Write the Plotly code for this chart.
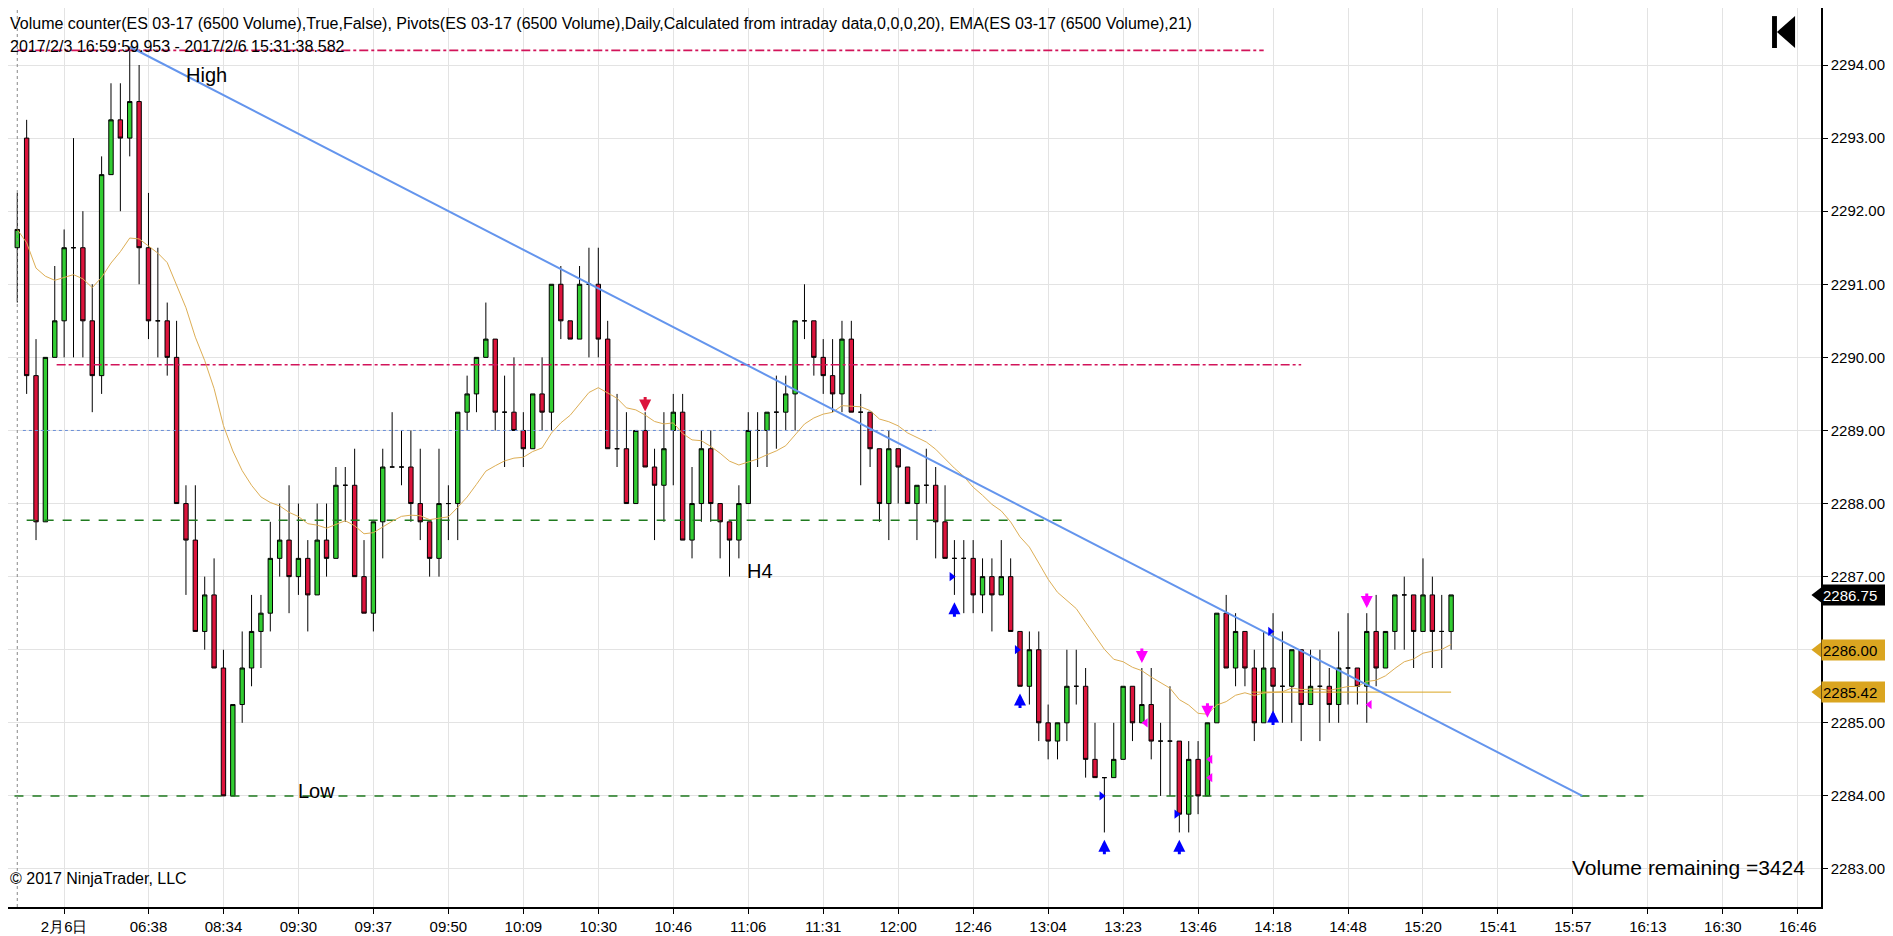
import pandas as pd
import plotly.graph_objects as go

# ES 03-17 6500-volume bars (bar index 0 = 2017/2/3 last bar)
opens = [2291.5, 2293.0, 2289.75, 2287.75, 2290.0, 2290.5, 2291.5, 2291.5, 2290.5, 2289.75,
         2292.5, 2293.25, 2293.0, 2293.5, 2291.5, 2290.5, 2290.5, 2290.0, 2288.0, 2287.5,
         2286.25, 2286.75, 2285.75, 2284.0, 2285.25, 2285.75, 2286.25, 2286.5, 2287.25, 2287.5,
         2287.0, 2287.25, 2286.75, 2287.5, 2287.25, 2288.25, 2288.25, 2287.0, 2286.5, 2287.75,
         2288.5, 2288.5, 2288.5, 2288.0, 2287.75, 2287.25, 2288.0, 2288.0, 2289.25, 2289.5,
         2290.0, 2290.25, 2289.25, 2289.25, 2289.0, 2288.75, 2289.5, 2289.25, 2291.0, 2290.5,
         2290.25, 2291.0, 2291.0, 2290.25, 2288.75, 2288.75, 2288.0, 2289.0, 2288.5, 2288.25,
         2289.0, 2289.25, 2287.5, 2288.0, 2288.75, 2288.0, 2287.75, 2287.5, 2288.0, 2289.0,
         2289.0, 2289.25, 2289.25, 2289.5, 2290.5, 2290.5, 2290.0, 2289.75, 2289.5, 2290.25,
         2289.25, 2289.25, 2288.75, 2288.0, 2288.75, 2288.5, 2288.0, 2288.25, 2288.25, 2287.75,
         2287.25, 2287.25, 2287.25, 2286.75, 2287.0, 2286.75, 2287.0, 2286.25, 2285.5, 2286.0,
         2285.0, 2284.75, 2285.0, 2285.5, 2285.5, 2284.5, 2284.25, 2284.25, 2284.5, 2285.5,
         2285.0, 2285.25, 2284.75, 2284.75, 2284.75, 2283.75, 2284.5, 2284.0, 2285.0, 2286.5,
         2285.75, 2286.25, 2285.75, 2285.0, 2285.75, 2285.5, 2285.5, 2286.0, 2285.25, 2285.5,
         2285.5, 2285.25, 2285.75, 2285.75, 2285.5, 2286.25, 2285.75, 2286.25, 2286.75, 2286.75,
         2286.25, 2286.75, 2286.25, 2286.25]
highs = [2292.25, 2293.25, 2290.25, 2290.0, 2291.25, 2291.75, 2293.0, 2292.0, 2291.0, 2292.75,
         2293.75, 2293.75, 2294.25, 2294.0, 2292.25, 2291.5, 2290.75, 2290.5, 2288.25, 2288.25,
         2287.0, 2287.25, 2286.0, 2285.25, 2286.25, 2286.75, 2286.75, 2287.75, 2288.0, 2288.25,
         2288.0, 2287.5, 2288.0, 2288.0, 2288.5, 2288.5, 2288.75, 2287.5, 2287.75, 2288.75,
         2289.25, 2289.0, 2289.0, 2288.75, 2287.75, 2288.75, 2288.25, 2289.25, 2289.75, 2290.0,
         2290.75, 2290.25, 2289.75, 2290.0, 2289.25, 2289.5, 2290.0, 2291.0, 2291.25, 2290.5,
         2291.25, 2291.5, 2291.5, 2290.5, 2289.5, 2289.25, 2289.0, 2289.25, 2288.75, 2289.25,
         2289.5, 2289.5, 2288.5, 2289.0, 2289.0, 2288.0, 2287.75, 2288.25, 2289.25, 2289.25,
         2289.25, 2289.75, 2289.75, 2290.5, 2291.0, 2290.5, 2290.25, 2290.25, 2290.5, 2290.5,
         2289.5, 2289.25, 2288.75, 2289.0, 2288.75, 2288.5, 2288.25, 2288.75, 2288.5, 2288.25,
         2287.5, 2287.5, 2287.5, 2287.25, 2287.25, 2287.5, 2287.25, 2286.25, 2286.25, 2286.25,
         2285.25, 2285.0, 2286.0, 2286.0, 2285.75, 2285.0, 2284.25, 2285.0, 2285.5, 2285.5,
         2285.75, 2285.75, 2285.0, 2285.5, 2284.75, 2284.75, 2284.75, 2285.0, 2286.5, 2286.75,
         2286.5, 2286.25, 2286.0, 2286.25, 2286.5, 2286.25, 2286.0, 2286.0, 2286.0, 2286.0,
         2285.75, 2286.25, 2286.5, 2285.75, 2286.5, 2286.75, 2286.25, 2286.75, 2287.0, 2286.75,
         2287.25, 2287.0, 2286.75, 2286.75]
lows = [2290.75, 2289.5, 2287.5, 2287.75, 2290.0, 2290.0, 2290.0, 2290.0, 2289.25, 2289.5,
        2292.5, 2292.0, 2292.75, 2291.0, 2290.25, 2290.0, 2289.75, 2288.0, 2286.75, 2286.25,
        2286.0, 2285.75, 2284.0, 2284.0, 2285.0, 2285.5, 2285.75, 2286.25, 2287.0, 2286.5,
        2286.75, 2286.25, 2286.75, 2287.0, 2287.25, 2287.75, 2287.0, 2286.5, 2286.25, 2287.25,
        2288.5, 2288.25, 2287.75, 2287.5, 2287.0, 2287.0, 2287.5, 2287.5, 2289.0, 2289.25,
        2290.0, 2289.0, 2288.5, 2289.0, 2288.5, 2288.75, 2289.0, 2289.0, 2290.25, 2290.25,
        2290.25, 2290.0, 2290.0, 2288.75, 2288.5, 2288.0, 2288.0, 2288.5, 2287.5, 2287.75,
        2288.25, 2287.5, 2287.25, 2287.75, 2287.75, 2287.25, 2287.0, 2287.25, 2288.0, 2288.5,
        2288.5, 2288.75, 2289.0, 2289.0, 2290.25, 2289.75, 2289.5, 2289.25, 2289.25, 2289.25,
        2288.25, 2288.5, 2287.75, 2287.5, 2288.0, 2288.0, 2287.5, 2288.0, 2287.25, 2287.25,
        2286.75, 2286.5, 2286.5, 2286.5, 2286.25, 2286.75, 2286.25, 2285.5, 2285.25, 2284.75,
        2284.5, 2284.5, 2284.75, 2285.25, 2284.25, 2284.25, 2283.5, 2284.25, 2284.5, 2284.75,
        2285.0, 2284.5, 2284.0, 2284.0, 2283.5, 2283.5, 2283.75, 2284.0, 2285.0, 2285.75,
        2285.5, 2285.5, 2284.75, 2285.0, 2285.0, 2285.0, 2285.0, 2284.75, 2285.25, 2284.75,
        2285.0, 2285.0, 2285.25, 2285.25, 2285.0, 2285.5, 2285.75, 2286.0, 2286.0, 2285.75,
        2286.25, 2285.75, 2285.75, 2286.0]
closes = [2291.75, 2289.75, 2287.75, 2290.0, 2290.5, 2291.5, 2291.5, 2290.5, 2289.75, 2292.5,
          2293.25, 2293.0, 2293.5, 2291.5, 2290.5, 2290.5, 2290.0, 2288.0, 2287.5, 2286.25,
          2286.75, 2285.75, 2284.0, 2285.25, 2285.75, 2286.25, 2286.5, 2287.25, 2287.5, 2287.0,
          2287.25, 2286.75, 2287.5, 2287.25, 2288.25, 2288.25, 2287.0, 2286.5, 2287.75, 2288.5,
          2288.5, 2288.5, 2288.0, 2287.75, 2287.25, 2288.0, 2288.0, 2289.25, 2289.5, 2290.0,
          2290.25, 2289.25, 2289.25, 2289.0, 2288.75, 2289.5, 2289.25, 2291.0, 2290.5, 2290.25,
          2291.0, 2291.0, 2290.25, 2288.75, 2288.75, 2288.0, 2289.0, 2288.5, 2288.25, 2288.75,
          2289.25, 2287.5, 2288.0, 2288.75, 2288.0, 2287.75, 2287.5, 2288.0, 2289.0, 2289.0,
          2289.25, 2289.25, 2289.5, 2290.5, 2290.5, 2290.0, 2289.75, 2289.5, 2290.25, 2289.25,
          2289.25, 2288.75, 2288.0, 2288.75, 2288.5, 2288.0, 2288.25, 2288.25, 2287.75, 2287.25,
          2287.25, 2287.25, 2286.75, 2287.0, 2286.75, 2287.0, 2286.25, 2285.5, 2286.0, 2285.0,
          2284.75, 2285.0, 2285.5, 2285.5, 2284.5, 2284.25, 2284.25, 2284.5, 2285.5, 2285.0,
          2285.25, 2284.75, 2284.75, 2284.75, 2283.75, 2284.5, 2284.0, 2285.0, 2286.5, 2285.75,
          2286.25, 2285.75, 2285.0, 2285.75, 2285.5, 2285.5, 2286.0, 2285.25, 2285.5, 2285.5,
          2285.25, 2285.75, 2285.75, 2285.5, 2286.25, 2285.75, 2286.25, 2286.75, 2286.75, 2286.25,
          2286.75, 2286.25, 2286.25, 2286.75]

tick_labels = ['2月6日', '06:38', '08:34', '09:30', '09:37', '09:50', '10:09', '10:30', '10:46',
               '11:06', '11:31', '12:00', '12:46', '13:04', '13:23', '13:46', '14:18', '14:48',
               '15:20', '15:41', '15:57', '16:13', '16:30', '16:46']
tick_bars = [5] + list(range(14, 191, 8))

# pivot / level lines: (price, first bar, last bar)
red_pivots = [(2294.2, 0, 133), (2289.9, 4.2, 137)]
green_levels = [(2287.77, 1, 112), (2284.0, -0.3, 174)]
blue_level = (2289.0, 0.6, 98)
gold_level = (2285.42, 131.7, 153)
trend_line = [(12, 2294.25), (167, 2284.0)]

# signal markers
buy_bars = [100, 107, 116, 124, 134]
buy_arrow_tips = [2286.65, 2285.4, 2283.4, 2283.4, 2285.17]
buy_tri_x = [99.7, 106.67, 115.7, 123.7, 133.7]
buy_tri_y = [2287.0, 2286.0, 2284.0, 2283.75, 2286.25]
sell_bars = [120, 127, 144]
sell_arrow_tips = [2285.82, 2285.07, 2286.57]
sell_tri_x = [120.4, 127.3, 127.3, 144.3]
sell_tri_y = [2285.0, 2284.5, 2284.25, 2285.25]
h4_bar, h4_tip = 67, 2289.26

ema = pd.Series(closes).ewm(span=21, adjust=False).mean()
bars = list(range(len(closes)))

RED = '#DC143C'
PINK = '#FF00FF'
BLUE = '#0000FF'
FONT = 'Arial, Liberation Sans, sans-serif'

fig = go.Figure()

# session break
fig.add_vline(x=0, line=dict(color='#888888', width=1, dash='dot'))

for price, x0, x1 in red_pivots:
    fig.add_trace(go.Scatter(x=[x0, x1], y=[price, price], mode='lines',
                             line=dict(color='#D2145A', width=1.6, dash='dashdot')))
for price, x0, x1 in green_levels:
    fig.add_trace(go.Scatter(x=[x0, x1], y=[price, price], mode='lines',
                             line=dict(color='#1F7A1F', width=1.5, dash='dash')))
fig.add_trace(go.Scatter(x=[blue_level[1], blue_level[2]], y=[blue_level[0]] * 2, mode='lines',
                         line=dict(color='#6A8FD8', width=1, dash='dot')))
fig.add_trace(go.Scatter(x=[gold_level[1], gold_level[2]], y=[gold_level[0]] * 2, mode='lines',
                         line=dict(color='#DAA520', width=1)))

fig.add_trace(go.Scatter(x=bars, y=ema, mode='lines', line=dict(color='#DDAE55', width=1)))

fig.add_trace(go.Candlestick(
    x=bars, open=opens, high=highs, low=lows, close=closes,
    increasing=dict(fillcolor='#32CD32', line=dict(color='black', width=1)),
    decreasing=dict(fillcolor=RED, line=dict(color='black', width=1)),
    whiskerwidth=0,
))

fig.add_trace(go.Scatter(x=[p[0] for p in trend_line], y=[p[1] for p in trend_line], mode='lines',
                         line=dict(color='#6495ED', width=2)))

fig.add_trace(go.Scatter(x=buy_tri_x, y=buy_tri_y, mode='markers',
                         marker=dict(symbol='triangle-right', size=8, color=BLUE)))
fig.add_trace(go.Scatter(x=sell_tri_x, y=sell_tri_y, mode='markers',
                         marker=dict(symbol='triangle-left', size=8, color=PINK)))

for b, tip in zip(buy_bars, buy_arrow_tips):
    fig.add_annotation(x=b, y=tip, ax=0, ay=16, text='', showarrow=True, arrowhead=2,
                       arrowsize=0.8, arrowwidth=3, arrowcolor=BLUE)
for b, tip in zip(sell_bars, sell_arrow_tips):
    fig.add_annotation(x=b, y=tip, ax=0, ay=-16, text='', showarrow=True, arrowhead=2,
                       arrowsize=0.8, arrowwidth=3, arrowcolor=PINK)
fig.add_annotation(x=h4_bar, y=h4_tip, ax=0, ay=-16, text='', showarrow=True, arrowhead=2,
                   arrowsize=0.8, arrowwidth=3, arrowcolor=RED)

# chart labels
for txt, x, y in [('High', 17.8, 2293.86), ('Low', 29.7, 2284.07), ('H4', 77.6, 2287.08)]:
    fig.add_annotation(x=x, y=y, text=txt, showarrow=False, xanchor='left',
                       font=dict(family=FONT, size=20, color='black'))

# price markers on the right axis
x_edge = 192.3
for price, bg, fg in [(closes[-1], 'black', 'white'), (2286.0, '#DAA520', 'black'),
                      (gold_level[0], '#DAA520', 'black')]:
    fig.add_trace(go.Scatter(x=[x_edge], y=[price], mode='markers', cliponaxis=False,
                             marker=dict(symbol='triangle-left', size=16, color=bg)))
    fig.add_annotation(xref='paper', x=1.0, y=price, text=f'{price:.2f}', showarrow=False,
                       xanchor='left', bgcolor=bg, width=70, height=18, align='left',
                       font=dict(family=FONT, size=15, color=fg))

fig.add_annotation(xref='paper', yref='paper', x=0, y=0.9944, xanchor='left', showarrow=False,
                   text='Volume counter(ES 03-17 (6500 Volume),True,False), Pivots(ES 03-17 (6500 Volume),'
                        'Daily,Calculated from intraday data,0,0,0,20), EMA(ES 03-17 (6500 Volume),21)',
                   font=dict(family=FONT, size=16, color='black'))
fig.add_annotation(xref='paper', yref='paper', x=0, y=0.9689, xanchor='left', showarrow=False,
                   text='2017/2/3 16:59:59.953 - 2017/2/6 15:31:38.582',
                   font=dict(family=FONT, size=16, color='black'))
fig.add_annotation(xref='paper', yref='paper', x=0, y=0.02, xanchor='left', showarrow=False,
                   text='© 2017 NinjaTrader, LLC', font=dict(family=FONT, size=16, color='black'))
fig.add_annotation(xref='paper', yref='paper', x=0.9923, y=0.0289, xanchor='right', showarrow=False,
                   text='Volume remaining =3424', font=dict(family=FONT, size=21, color='black'))

# "jump to last bar" icon
fig.add_shape(type='rect', xref='paper', yref='paper', x0=0.9730, x1=0.9757, y0=0.9555, y1=0.991,
              fillcolor='black', line=dict(width=0))
fig.add_shape(type='path', xref='paper', yref='paper', path='M 0.9757 0.9733 L 0.9857 0.991 L 0.9857 0.9555 Z',
              fillcolor='black', line=dict(width=0))

# the page adds an 8px body margin, so the figure is 8px smaller on each axis
fig.update_layout(
    width=1885, height=928,
    margin=dict(l=0, r=72, t=0, b=29),
    plot_bgcolor='white', paper_bgcolor='white',
    showlegend=False,
    boxgap=0.33,
    font=dict(family=FONT, size=15, color='black'),
    xaxis=dict(range=[-0.99, 192.47], rangeslider=dict(visible=False),
               tickvals=tick_bars, ticktext=tick_labels, ticks='outside', ticklen=5,
               tickcolor='black', showline=True, linecolor='black', linewidth=1.5,
               showgrid=True, gridcolor='#E3E3E3', zeroline=False,
               tickfont=dict(family=FONT, size=15)),
    yaxis=dict(range=[2282.48, 2294.78], side='right', dtick=1, tickformat='.2f',
               ticks='outside', ticklen=5, tickcolor='black', showline=True,
               linecolor='black', linewidth=1.5, showgrid=True, gridcolor='#E3E3E3',
               zeroline=False, tickfont=dict(family=FONT, size=15)),
)

fig.write_html('out.html')
